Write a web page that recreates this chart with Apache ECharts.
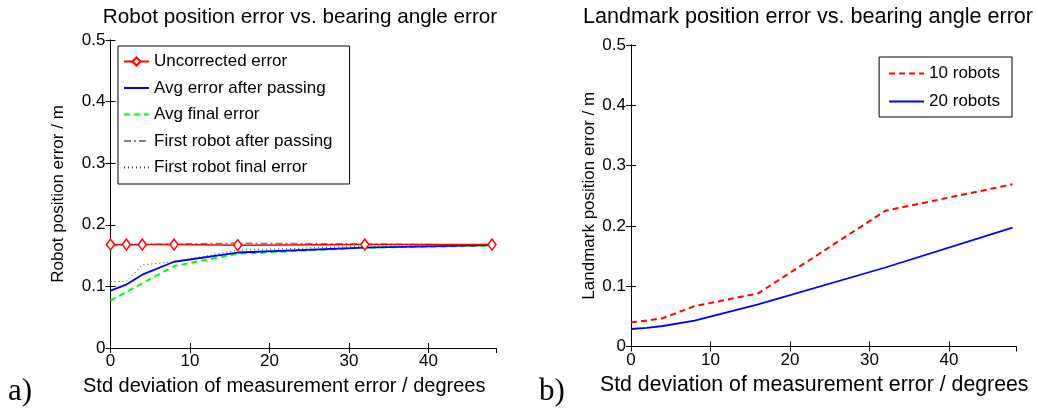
<!DOCTYPE html>
<html>
<head>
<meta charset="utf-8">
<script src="https://cdn.jsdelivr.net/npm/echarts@6/dist/echarts.min.js"></script>
<style>
  html, body { margin: 0; padding: 0; background: #fff; }
  #chart { width: 1038px; height: 410px; }
</style>
</head>
<body>
<div id="chart"></div>
<script>
// Standard deviation of the bearing measurement error (degrees)
const stdDevDeg = [0, 2, 4, 8, 16, 32, 48];

// Panel a) robot position error (m)
const uncorrectedError   = [0.168, 0.168, 0.168, 0.168, 0.167, 0.168, 0.168];
const avgErrorPassing    = [0.093, 0.103, 0.119, 0.140, 0.155, 0.163, 0.167];
const avgFinalError      = [0.077, 0.091, 0.105, 0.133, 0.153, 0.163, 0.166];
const firstRobotPassing  = [0.166, 0.167, 0.168, 0.169, 0.170, 0.169, 0.167];
const firstRobotFinal    = [0.108, 0.108, 0.135, 0.140, 0.159, 0.165, 0.167];

// Panel b) landmark position error (m)
const landmark10Robots = [0.040, 0.043, 0.047, 0.067, 0.088, 0.225, 0.269];
const landmark20Robots = [0.029, 0.031, 0.034, 0.043, 0.070, 0.131, 0.197];

const xTicks = [0, 10, 20, 30, 40];
const yTicks = [0, 0.1, 0.2, 0.3, 0.4, 0.5];

const SANS = '"Liberation Sans", Arial, Helvetica, sans-serif';
const SERIF = '"Liberation Serif", "DejaVu Serif", serif';

const pts = arr => stdDevDeg.map((x, i) => [x, arr[i]]);

const frameLine = { show: true, lineStyle: { color: '#000', width: 1 } };
const frameTick = { show: true, inside: true, length: 5, lineStyle: { color: '#000', width: 1 } };

function xAxisPair(grid, name, fs, shift) {
  return [
    {
      gridIndex: grid, type: 'value', position: 'bottom',
      min: 0, max: 48.5, interval: 10,
      axisLine: frameLine, axisTick: frameTick, splitLine: { show: false },
      axisLabel: {
        color: '#000', fontFamily: SANS, fontSize: 17, margin: 5,
        showMaxLabel: false,
        formatter: v => (xTicks.includes(v) ? String(v) : '')
      },
      name: name, nameLocation: 'middle', nameGap: 28,
      nameTextStyle: { color: '#000', fontFamily: SANS, fontSize: fs, padding: [0, shift, 0, 0] }
    },
    {
      gridIndex: grid, type: 'value', position: 'top',
      min: 0, max: 48.5, interval: 10,
      axisLine: frameLine, axisTick: frameTick, splitLine: { show: false },
      axisLabel: { show: false }
    }
  ];
}

function yAxisPair(grid, name, gap) {
  return [
    {
      gridIndex: grid, type: 'value', position: 'left',
      min: 0, max: 0.5, interval: 0.1,
      axisLine: frameLine, axisTick: frameTick, splitLine: { show: false },
      axisLabel: {
        color: '#000', fontFamily: SANS, fontSize: 17, margin: 5,
        formatter: v => {
          const r = Math.round(v * 10) / 10;
          return yTicks.includes(r) ? String(r) : '';
        }
      },
      name: name, nameLocation: 'middle', nameGap: gap,
      nameTextStyle: { color: '#000', fontFamily: SANS, fontSize: 17 }
    },
    {
      gridIndex: grid, type: 'value', position: 'right',
      min: 0, max: 0.5, interval: 0.1,
      axisLine: frameLine, axisTick: frameTick, splitLine: { show: false },
      axisLabel: { show: false }
    }
  ];
}

const xName = 'Std deviation of measurement error / degrees';
// legend entries for plain lines: show only the line sample, no marker
const plainEntry = name => ({ name: name, itemStyle: { opacity: 0 } });

const option = {
  animation: false,
  backgroundColor: '#fff',
  grid: [
    { left: 110.5, top: 40, right: 542, bottom: 62 },
    { left: 631, top: 45, right: 21.5, bottom: 63.5 }
  ],
  xAxis: [...xAxisPair(0, xName, 20, 38), ...xAxisPair(1, xName, 21.3, 19)],
  yAxis: [
    ...yAxisPair(0, 'Robot position error / m', 44),
    ...yAxisPair(1, 'Landmark position error / m', 33)
  ],
  legend: [
    {
      orient: 'vertical', left: 118, top: 46,
      padding: [7, 17, 8, 5], itemGap: 9.5,
      itemWidth: 25, itemHeight: 10,
      backgroundColor: '#fff', borderColor: '#000', borderWidth: 1,
      textStyle: { color: '#000', fontFamily: SANS, fontSize: 17 },
      data: ['Uncorrected error',
             plainEntry('Avg error after passing'),
             plainEntry('Avg final error'),
             plainEntry('First robot after passing'),
             plainEntry('First robot final error')]
    },
    {
      orient: 'vertical', right: 26, top: 57,
      padding: [8, 12, 7, 9], itemGap: 11,
      itemWidth: 35, itemHeight: 10,
      backgroundColor: '#fff', borderColor: '#000', borderWidth: 1,
      textStyle: { color: '#000', fontFamily: SANS, fontSize: 17 },
      data: [plainEntry('10 robots'), plainEntry('20 robots')]
    }
  ],
  series: [
    {
      name: 'First robot final error', type: 'line', xAxisIndex: 0, yAxisIndex: 0,
      data: pts(firstRobotFinal), symbol: 'none',
      lineStyle: { color: '#333', width: 1, type: [1, 3] }, itemStyle: { color: '#333' }, z: 2
    },
    {
      name: 'First robot after passing', type: 'line', xAxisIndex: 0, yAxisIndex: 0,
      data: pts(firstRobotPassing), symbol: 'none',
      lineStyle: { color: '#808080', width: 1.5, type: [7, 3, 2, 3] }, itemStyle: { color: '#808080' }, z: 3
    },
    {
      name: 'Avg final error', type: 'line', xAxisIndex: 0, yAxisIndex: 0,
      data: pts(avgFinalError), symbol: 'none',
      lineStyle: { color: '#00ff00', width: 2, type: [6, 4] }, itemStyle: { color: '#00ff00' }, z: 4
    },
    {
      name: 'Avg error after passing', type: 'line', xAxisIndex: 0, yAxisIndex: 0,
      data: pts(avgErrorPassing), symbol: 'none',
      lineStyle: { color: '#0000ff', width: 1.8 }, itemStyle: { color: '#0000ff' }, z: 5
    },
    {
      name: 'Uncorrected error', type: 'line', xAxisIndex: 0, yAxisIndex: 0,
      data: pts(uncorrectedError), symbol: 'diamond', symbolSize: [8, 11], showSymbol: true,
      lineStyle: { color: '#ff0000', width: 1.5 },
      itemStyle: { color: '#fff', borderColor: '#ff0000', borderWidth: 1.5 }, z: 6
    },
    {
      name: '10 robots', type: 'line', xAxisIndex: 2, yAxisIndex: 2,
      data: pts(landmark10Robots), symbol: 'none',
      lineStyle: { color: '#ff0000', width: 2, type: [6, 4] }, itemStyle: { color: '#ff0000' }
    },
    {
      name: '20 robots', type: 'line', xAxisIndex: 2, yAxisIndex: 2,
      data: pts(landmark20Robots), symbol: 'none',
      lineStyle: { color: '#0000ff', width: 1.8 }, itemStyle: { color: '#0000ff' }
    }
  ],
  graphic: [
    {
      type: 'text', x: 300, y: 7,
      style: { text: 'Robot position error vs. bearing angle error', fill: '#000',
               font: '20.7px ' + SANS, textAlign: 'center' }
    },
    {
      type: 'text', x: 808, y: 6,
      style: { text: 'Landmark position error vs. bearing angle error', fill: '#000',
               font: '21.6px ' + SANS, textAlign: 'center' }
    },
    {
      type: 'text', x: 8, y: 376,
      style: { text: 'a)', fill: '#000', font: '31px ' + SERIF }
    },
    {
      type: 'text', x: 539, y: 376,
      style: { text: 'b)', fill: '#000', font: '31px ' + SERIF }
    }
  ]
};

const chart = echarts.init(document.getElementById('chart'));
chart.setOption(option);
</script>
</body>
</html>
